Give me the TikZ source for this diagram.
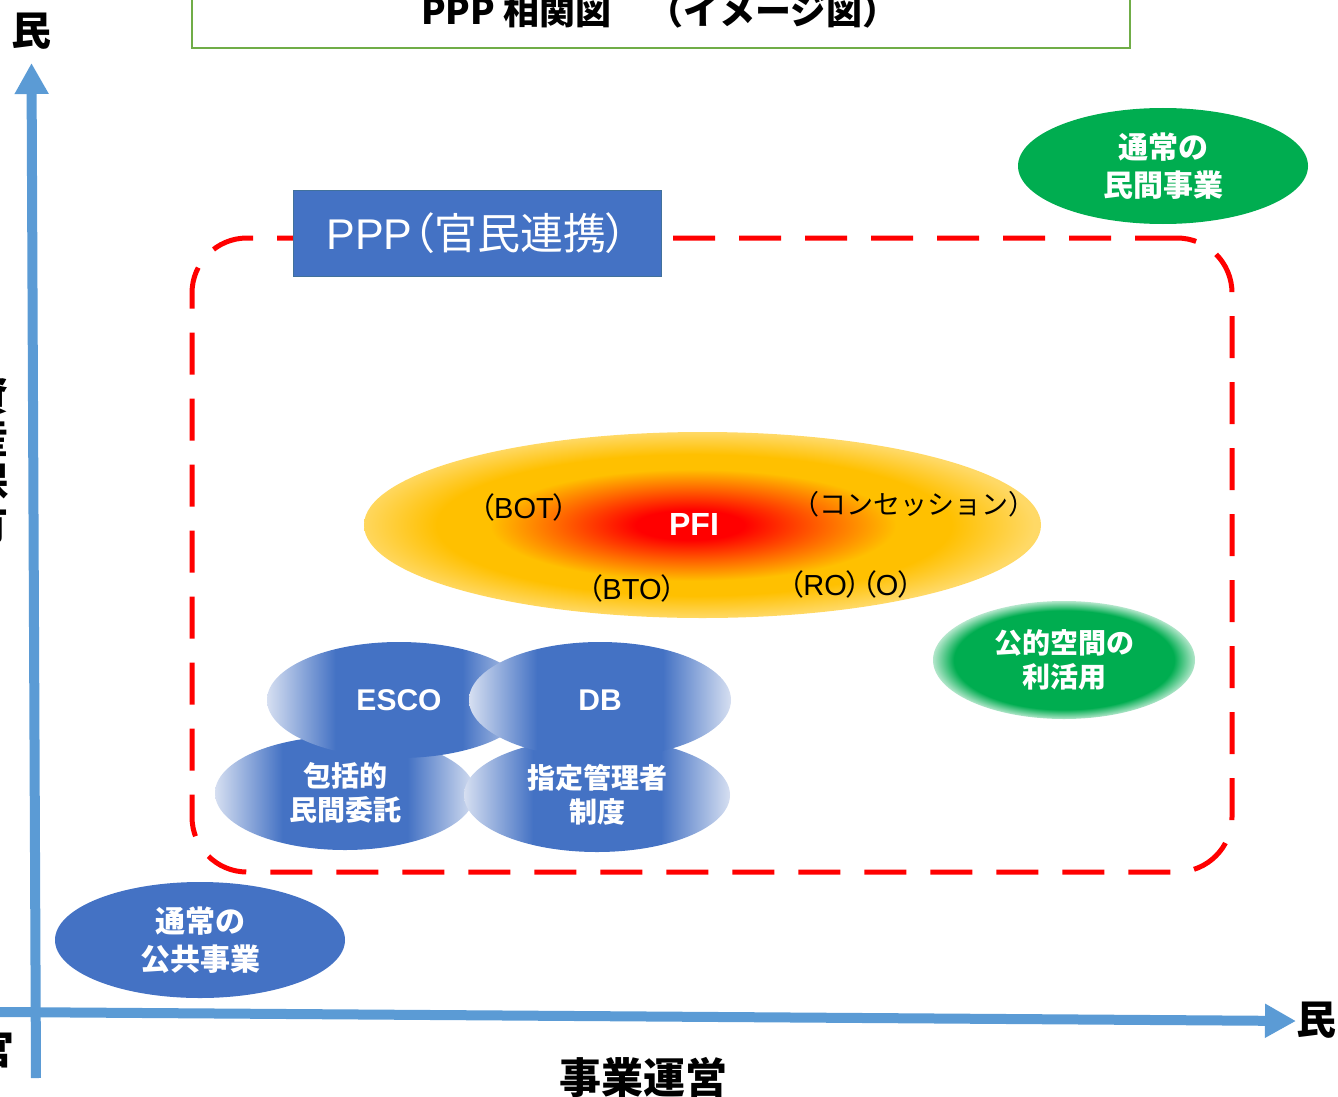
\documentclass[tikz,border=0pt]{standalone}
\usepackage{fontspec}
\setmainfont{Noto Sans CJK JP}
\newfontfamily\lat{Liberation Sans}
\newfontfamily\jpp{Noto Sans CJK JP}[RawFeature=+palt]
\usetikzlibrary{shapes.geometric,arrows.meta}
\definecolor{axisblue}{HTML}{5B9BD5}
\definecolor{boxblue}{HTML}{4472C4}
\definecolor{boxedge}{HTML}{41719C}
\definecolor{lightblue}{HTML}{D6DFF1}
\definecolor{titlegreen}{HTML}{70AD47}
\definecolor{ellgreen}{HTML}{00AD50}
\definecolor{pfiorange}{HTML}{FF6A00}
\definecolor{pfigold}{HTML}{FFC000}
\definecolor{pfilight}{HTML}{FFD966}
\definecolor{framered}{HTML}{FF0000}
\pgfdeclareradialshading{pfishade}{\pgfpoint{-1bp}{0bp}}{color(0bp)=(framered); color(4bp)=(framered); color(10bp)=(pfiorange); color(15bp)=(pfigold); color(19bp)=(pfigold); color(25bp)=(pfilight); color(50bp)=(pfilight)}
\pgfdeclarehorizontalshading{bluefade}{100bp}{color(0bp)=(lightblue); color(25bp)=(lightblue); color(38bp)=(boxblue); color(62bp)=(boxblue); color(75bp)=(lightblue); color(100bp)=(lightblue)}
\pgfdeclareradialshading{greenglow}{\pgfpoint{0bp}{0bp}}{color(0bp)=(ellgreen); color(21bp)=(ellgreen); color(25bp)=(ellgreen!30!white); color(50bp)=(white)}
\tikzset{
  axisline/.style={draw=axisblue, line width=10pt, -{Triangle[width=32pt,length=31pt]}},
  axlabel/.style={font=\fontsize{40}{44}\selectfont\bfseries, text=black, inner sep=0pt},
  ell/.style={ellipse, inner sep=0pt, align=center, text=white},
  whitetext/.style={font=\fontsize{30}{38}\selectfont\bfseries},
  smallwhite/.style={font=\fontsize{28}{34}\selectfont\bfseries},
  bluesh/.style={ell, shading=bluefade, smallwhite},
  latwhite/.style={font=\fontsize{30}{34}\selectfont\bfseries\lat},
  pfilabel/.style={font=\fontsize{29}{30}\selectfont\jpp, text=black, inner sep=0pt},
  frame/.style={draw=framered, line width=5pt, dash pattern=on 42pt off 24pt, rounded corners=55pt, rectangle, inner sep=0pt},
}
\begin{document}
\begin{tikzpicture}[x=1pt,y=-1pt]
\useasboundingbox (0,0) rectangle (1338,1097);
% title
\node[draw=titlegreen, line width=2.5pt, minimum width=938pt, minimum height=70pt, inner sep=0pt] (titlebox) at (661,13) {};
\node[font=\fontsize{36}{40}\selectfont\bfseries, inner sep=0pt] (title) at (660,11) {PPP 相関図　（イメージ図）};
% axes
\coordinate (vbot) at (36,1078);
\coordinate (vtop) at (31.5,63);
\coordinate (hleft) at (0,1012);
\coordinate (hright) at (1296,1021);
\draw[axisline] (vbot) -- (vtop);
\draw[axisline] (hleft) -- (hright);
\node[axlabel] (mintop) at (32,31) {民};
\node[axlabel] (minright) at (1316,1020) {民};
\node[axlabel] (kan) at (-5,1049) {官};
\node[axlabel, align=center, font=\fontsize{40}{43}\selectfont\bfseries] (shisan) at (-11,460) {資\\産\\保\\有};
\node[axlabel, font=\fontsize{42}{46}\selectfont\bfseries] (jigyo) at (643,1077) {事業運営};
% PPP frame
\node[frame, minimum width=1040pt, minimum height=634pt] (frame) at (712,555) {};
\node[fill=boxblue, draw=boxedge, line width=1pt, minimum width=368pt, minimum height=86pt, inner sep=0pt, text=white, font=\fontsize{43}{46}\selectfont\jpp] (ppp) at (477,233) {{\lat PPP}（官民連携）};
% private business
\node[ell, fill=ellgreen, minimum width=290pt, minimum height=116pt, whitetext] (minkan) at (1163,166) {通常の\\民間事業};
% PFI
\node[ell, shading=pfishade, minimum width=677pt, minimum height=186pt] (pfi) at (702.5,525) {};
\node[inner sep=0pt, text=white, font=\fontsize{32}{34}\selectfont\bfseries\lat] (pfitext) at (694,524) {PFI};
\node[pfilabel] (bot) at (524,507) {（{\lat BOT}）};
\node[pfilabel, font=\fontsize{27}{30}\selectfont] (conc) at (914,504) {（コンセッション）};
\node[pfilabel] (bto) at (632,588) {（{\lat BTO}）};
\node[pfilabel] (ro) at (851,584) {（{\lat RO}）（{\lat O}）};
% public space
\node[ell, shading=greenglow, minimum width=262pt, minimum height=118pt, smallwhite] (koteki) at (1064,660) {公的空間の\\利活用};
% blue group
\node[bluesh, minimum width=260pt, minimum height=114pt] (hokatsu) at (345,793) {包括的\\民間委託};
\node[bluesh, minimum width=266pt, minimum height=114pt] (shitei) at (597,795) {指定管理者\\制度};
\node[bluesh, minimum width=264pt, minimum height=116pt, latwhite] (esco) at (399,700) {ESCO};
\node[bluesh, minimum width=262pt, minimum height=116pt, latwhite] (db) at (600,700) {DB};
% public business
\node[ell, fill=boxblue, minimum width=290pt, minimum height=116pt, whitetext] (kokyo) at (200,940) {通常の\\公共事業};
\end{tikzpicture}
\end{document}
